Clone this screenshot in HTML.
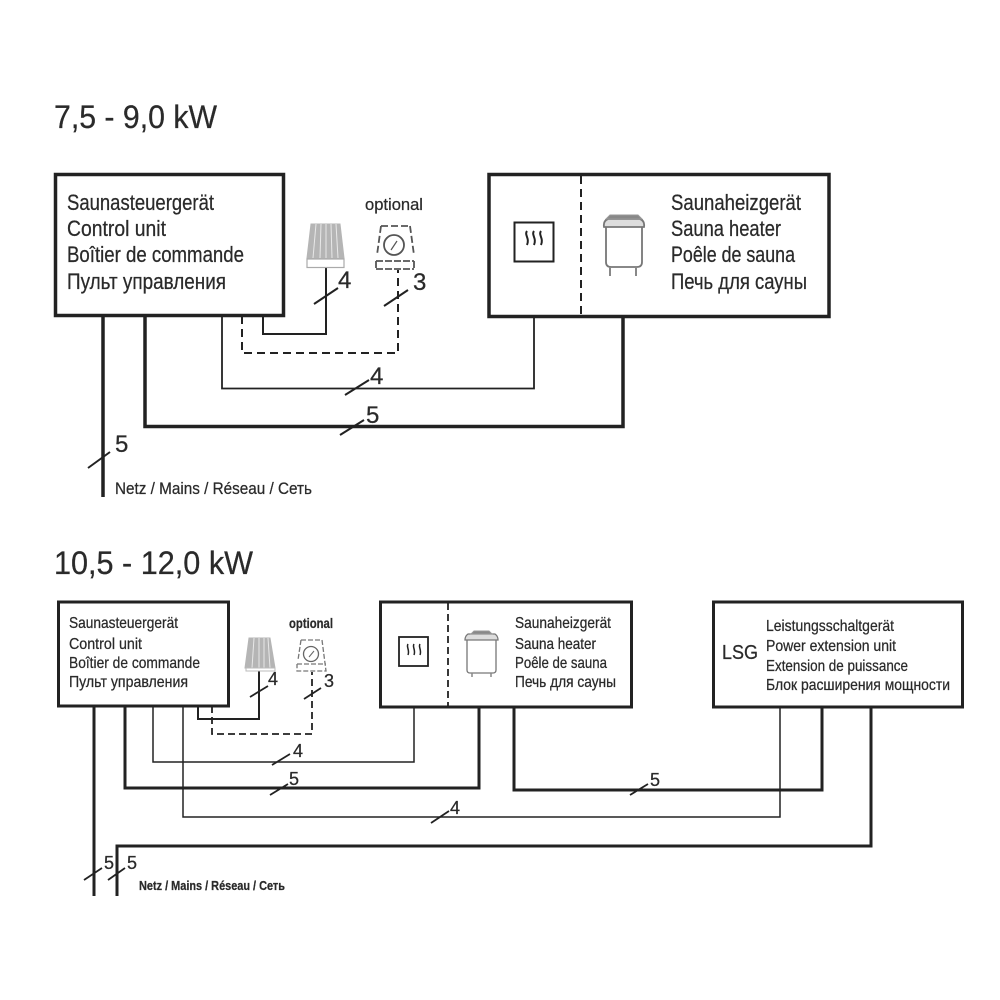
<!DOCTYPE html>
<html><head><meta charset="utf-8"><style>
html,body{margin:0;padding:0;background:#fff}
svg{display:block;filter:blur(0.35px)}
text{font-family:"Liberation Sans","DejaVu Sans",sans-serif;fill:#2a2a2a;stroke:#2a2a2a;stroke-width:.25px}
.t{font-size:22px}.s{font-size:16px}.n{font-size:24px}.m{font-size:18px}
</style></head><body>
<svg width="1000" height="1000" viewBox="0 0 1000 1000" xmlns="http://www.w3.org/2000/svg" fill="none" stroke-linecap="butt">
<text x="54" y="128" font-size="32" textLength="163" lengthAdjust="spacingAndGlyphs">7,5 - 9,0 kW</text>
<text x="54" y="574" font-size="32" textLength="199" lengthAdjust="spacingAndGlyphs">10,5 - 12,0 kW</text>

<g stroke="#222">
<rect x="55.5" y="174.5" width="228" height="141" stroke-width="3.5"/>
<rect x="489" y="174.5" width="340" height="142" stroke-width="3.5"/>
<path d="M581 176V316" stroke-width="2" stroke-dasharray="8 5"/>
<path d="M103 316V497" stroke-width="3.5"/>
<path d="M145 316V426.500H623V316" stroke-width="3.5"/>
<path d="M222 316V388.500H534V316" stroke-width="1.800"/>
<path d="M263 316V334H326V268" stroke-width="2"/>
<path d="M242 316V353H398V270" stroke-width="2" stroke-dasharray="8 5"/>
<path d="M88 468L110 452M314 304L338 288M384 306L408 290M345 395L369 380M340 435L364 420" stroke-width="2"/>
<rect x="514.500" y="222.500" width="39" height="39" stroke-width="2"/>
<path d="M527 231c-3 4 3 7 0 14M534 231c-3 4 3 7 0 14M541 231c-3 4 3 7 0 14" stroke-width="2"/>
<path d="M606 227V262Q606 267 611 267H637Q642 267 642 262V227" stroke="#777" stroke-width="1.800"/>
<path d="M604 227Q603 221 608 219H640Q645 221 644 227Z" stroke="#777" fill="#ddd" stroke-width="1.800"/>
<path d="M610 215H638L642 219H606Z" fill="#888" stroke="#999" stroke-width="1"/>
<path d="M610 267V276M636 267V276" stroke="#888" stroke-width="2"/>
<path d="M311 224H340L344 258H307Z" fill="#b5b5b5" stroke="#b5b5b5" stroke-width="1"/>
<path d="M316 224L313 258M321 224L320 258M326 224V258M331 224L332 258M336 224L338 258" stroke="#e8e8e8" stroke-width="1"/>
<rect x="307" y="259" width="37" height="8.500" stroke="#aaa" stroke-width="1.200"/>
<path d="M381 226H410M410 226L414 255M381 226L377 255" stroke="#555" stroke-width="1.800" stroke-dasharray="7 3"/>
<path d="M376 261H414M376 269H414M376 261V269M414 261V269" stroke="#555" stroke-width="1.800" stroke-dasharray="7 2"/>
<circle cx="394" cy="245" r="10" stroke="#555" stroke-width="1.800"/>
<path d="M391 250L397 241" stroke="#555" stroke-width="1.200"/>
</g>
<g>
<text class="t" x="67" y="210" textLength="147" lengthAdjust="spacingAndGlyphs">Saunasteuergerät</text>
<text class="t" x="67" y="236" textLength="99" lengthAdjust="spacingAndGlyphs">Control unit</text>
<text class="t" x="67" y="262" textLength="177" lengthAdjust="spacingAndGlyphs">Boîtier de commande</text>
<text class="t" x="67" y="289" textLength="159" lengthAdjust="spacingAndGlyphs">Пульт управления</text>
<text class="t" x="671" y="210" textLength="130" lengthAdjust="spacingAndGlyphs">Saunaheizgerät</text>
<text class="t" x="671" y="236" textLength="110" lengthAdjust="spacingAndGlyphs">Sauna heater</text>
<text class="t" x="671" y="262" textLength="124" lengthAdjust="spacingAndGlyphs">Poêle de sauna</text>
<text class="t" x="671" y="289" textLength="136" lengthAdjust="spacingAndGlyphs">Печь для сауны</text>
<text x="365" y="210" font-size="17" textLength="58" lengthAdjust="spacingAndGlyphs">optional</text>
<text class="n" x="338" y="288">4</text>
<text class="n" x="413" y="290">3</text>
<text class="n" x="370" y="384">4</text>
<text class="n" x="366" y="423">5</text>
<text class="n" x="115" y="452">5</text>
<text x="115" y="494" font-size="17" textLength="197" lengthAdjust="spacingAndGlyphs">Netz / Mains / Réseau / Сеть</text>
</g>

<g stroke="#222">
<rect x="58.500" y="602" width="170" height="104" stroke-width="3"/>
<rect x="380.500" y="602" width="251" height="105" stroke-width="3"/>
<rect x="713.500" y="602" width="249" height="105" stroke-width="3"/>
<path d="M448 603V706" stroke-width="1.800" stroke-dasharray="7 4"/>
<path d="M94 706V896" stroke-width="3"/>
<path d="M125 706V788H479V707" stroke-width="3"/>
<path d="M153 706V762H414V707" stroke-width="1.500"/>
<path d="M183 706V817H780V707" stroke-width="1.500"/>
<path d="M198 706V719H259V671" stroke-width="2"/>
<path d="M212 706V734H312V672" stroke-width="1.800" stroke-dasharray="7 4"/>
<path d="M514 707V790H822V707" stroke-width="3"/>
<path d="M117 896V846H871V707" stroke-width="3"/>
<path d="M84 880L102 868M108 880L125 868M250 697L268 686M304 699L321 688M272 765L290 754M270 795L288 784M431 823L449 811M630 795L648 784" stroke-width="1.800"/>
<rect x="399" y="637" width="29" height="29" stroke-width="1.800"/>
<path d="M408 644c-2 3 2 6 0 11M414 644c-2 3 2 6 0 11M420 644c-2 3 2 6 0 11" stroke-width="1.500"/>
<path d="M467 640V670Q467 673 470 673H493Q496 673 496 670V640" stroke="#777" stroke-width="1.300"/>
<path d="M465 640Q465 636 468 634H495Q498 636 498 640Z" stroke="#777" fill="#ddd" stroke-width="1.300"/>
<path d="M471 634L474 631H489L492 634Z" fill="#888" stroke="#999" stroke-width="1"/>
<path d="M472 673V677M491 673V677" stroke="#888" stroke-width="1.500"/>
<path d="M249 638H270L275 668H245Z" fill="#b5b5b5" stroke="#b5b5b5" stroke-width="1"/>
<path d="M254 638L252 668M259 638V668M264 638V668M268 638L270 668" stroke="#e8e8e8" stroke-width="1"/>
<rect x="246" y="668" width="29" height="3" stroke="#bbb" stroke-width="1"/>
<path d="M301 640H322L326 671H297V664M297 664H326M301 640L298 660" stroke="#777" stroke-width="1.300" stroke-dasharray="5 2"/>
<circle cx="311" cy="654" r="7.500" stroke="#666" stroke-width="1.300"/>
<path d="M309 657L314 651" stroke="#666" stroke-width="1"/>
</g>
<g>
<text class="s" x="69" y="628" textLength="109" lengthAdjust="spacingAndGlyphs">Saunasteuergerät</text>
<text class="s" x="69" y="649" textLength="73" lengthAdjust="spacingAndGlyphs">Control unit</text>
<text class="s" x="69" y="668" textLength="131" lengthAdjust="spacingAndGlyphs">Boîtier de commande</text>
<text class="s" x="69" y="687" textLength="119" lengthAdjust="spacingAndGlyphs">Пульт управления</text>
<text class="s" x="515" y="628" textLength="96" lengthAdjust="spacingAndGlyphs">Saunaheizgerät</text>
<text class="s" x="515" y="649" textLength="81" lengthAdjust="spacingAndGlyphs">Sauna heater</text>
<text class="s" x="515" y="668" textLength="92" lengthAdjust="spacingAndGlyphs">Poêle de sauna</text>
<text class="s" x="515" y="687" textLength="101" lengthAdjust="spacingAndGlyphs">Печь для сауны</text>
<text class="s" x="766" y="631" textLength="128" lengthAdjust="spacingAndGlyphs">Leistungsschaltgerät</text>
<text class="s" x="766" y="651" textLength="130" lengthAdjust="spacingAndGlyphs">Power extension unit</text>
<text class="s" x="766" y="671" textLength="142" lengthAdjust="spacingAndGlyphs">Extension de puissance</text>
<text class="s" x="766" y="690" textLength="184" lengthAdjust="spacingAndGlyphs">Блок расширения мощности</text>
<text x="722" y="659" font-size="20" textLength="36" lengthAdjust="spacingAndGlyphs">LSG</text>
<text x="289" y="628" font-size="14" font-weight="bold" textLength="44" lengthAdjust="spacingAndGlyphs">optional</text>
<text class="m" x="268" y="685">4</text>
<text class="m" x="324" y="687">3</text>
<text class="m" x="293" y="757">4</text>
<text class="m" x="289" y="785">5</text>
<text class="m" x="450" y="814">4</text>
<text class="m" x="650" y="786">5</text>
<text class="m" x="104" y="869">5</text>
<text class="m" x="127" y="869">5</text>
<text x="139" y="890" font-size="13" font-weight="bold" textLength="146" lengthAdjust="spacingAndGlyphs">Netz / Mains / Réseau / Сеть</text>
</g>
</svg>
</body></html>
